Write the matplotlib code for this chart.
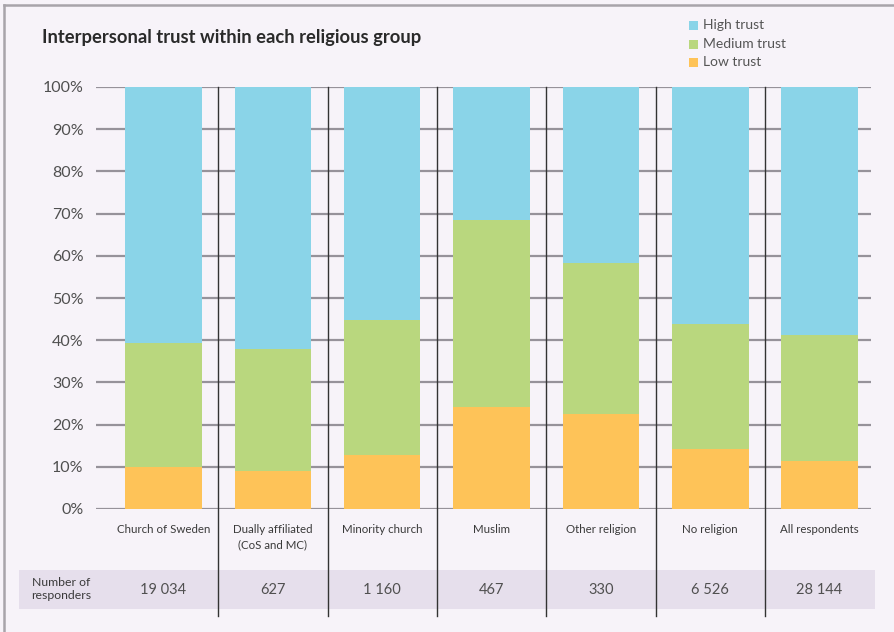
import matplotlib
matplotlib.use("Agg")
import matplotlib.pyplot as plt
from matplotlib.patches import Rectangle
from matplotlib.lines import Line2D
import numpy as np

plt.rcParams['font.family'] = ['Lato', 'DejaVu Sans']

categories = ["Church of Sweden", "Dually affiliated\n(CoS and MC)", "Minority church",
              "Muslim", "Other religion", "No religion", "All respondents"]
low_trust = [10.0, 9.0, 12.8, 24.2, 22.6, 14.1, 11.4]
medium_trust = [29.3, 28.9, 32.1, 44.4, 35.7, 29.8, 29.8]
high_trust = [100 - l - m for l, m in zip(low_trust, medium_trust)]
responders = ["19 034", "627", "1 160", "467", "330", "6 526", "28 144"]
yticks = [0, 10, 20, 30, 40, 50, 60, 70, 80, 90, 100]

bg = "#F7F3F9"
c_high = "#8AD4E8"
c_med = "#B9D77E"
c_low = "#FEC358"
text_c = "#3A3A3A"

W, H = 894, 632
fig = plt.figure(figsize=(W / 100, H / 100), dpi=100, facecolor=bg)

def fx(px):
    return px / W

def fy(py):
    return 1 - py / H

# page frame: top and left edges only
fig.add_artist(Line2D([fx(3.5), 1], [fy(4.5), fy(4.5)], transform=fig.transFigure,
                      color="#A8A4AA", lw=1.8))
fig.add_artist(Line2D([fx(3.5), fx(3.5)], [fy(4.5), 0], transform=fig.transFigure,
                      color="#A8A4AA", lw=1.8))

ax = fig.add_axes([fx(96), fy(509), fx(871 - 96), (509 - 87) / H])
ax.set_facecolor(bg)
x = np.arange(len(categories))
ax.set_xlim(-0.617, 6.47)
ax.set_ylim(0, 100)

for t in yticks:
    ax.axhline(t, color="#7E7A82", lw=1.6, alpha=0.8, zorder=1)

bw = 0.70
ax.bar(x, low_trust, width=bw, color=c_low, zorder=3, label="Low trust")
ax.bar(x, medium_trust, width=bw, bottom=low_trust, color=c_med, zorder=3, label="Medium trust")
bottom2 = [l + m for l, m in zip(low_trust, medium_trust)]
ax.bar(x, high_trust, width=bw, bottom=bottom2, color=c_high, zorder=3, label="High trust")

# table band for respondent counts
fig.add_artist(Rectangle((fx(19), fy(609)), fx(875 - 19), 39 / H, transform=fig.transFigure,
                         facecolor="#E6DFEC", edgecolor="none", zorder=0))

# dividers between groups, running down through the table
y_bottom = (509 - 616) / 4.22
for d in x[:-1] + 0.5:
    ax.plot([d, d], [y_bottom, 100], color="#333333", lw=1.0, clip_on=False, zorder=4)

for s in ax.spines.values():
    s.set_visible(False)
ax.set_xticks([])
ax.set_yticks(yticks)
ax.set_yticklabels([f"{t}%" for t in yticks], fontsize=11.5, color="#505050")
ax.tick_params(axis="y", length=0, pad=9)

for xi, cat in zip(x, categories):
    ax.text(xi, -3.6, cat, ha="center", va="top", fontsize=8.3, color=text_c,
            linespacing=1.5)

for xi, n in zip(x, responders):
    ax.text(xi, (509 - 590) / 4.22, n, ha="center", va="center", fontsize=10.5,
            color="#505050")
fig.text(fx(61), fy(589), "Number of\nresponders", ha="center", va="center",
         fontsize=8.8, color=text_c, linespacing=1.3)

fig.text(fx(42), fy(38), "Interpersonal trust within each religious group", ha="left",
         va="center", fontsize=13.2, fontweight="bold", color="#2A2A2A")

# legend
for py, lab, col in [(25, "High trust", c_high), (44, "Medium trust", c_med), (62, "Low trust", c_low)]:
    fig.add_artist(Rectangle((fx(689), fy(py + 4.5)), fx(9), 9 / H, transform=fig.transFigure,
                             facecolor=col, edgecolor="none"))
    fig.text(fx(703), fy(py), lab, ha="left", va="center", fontsize=10, color="#555555")

fig.savefig("out.png", dpi=100, facecolor=bg)
